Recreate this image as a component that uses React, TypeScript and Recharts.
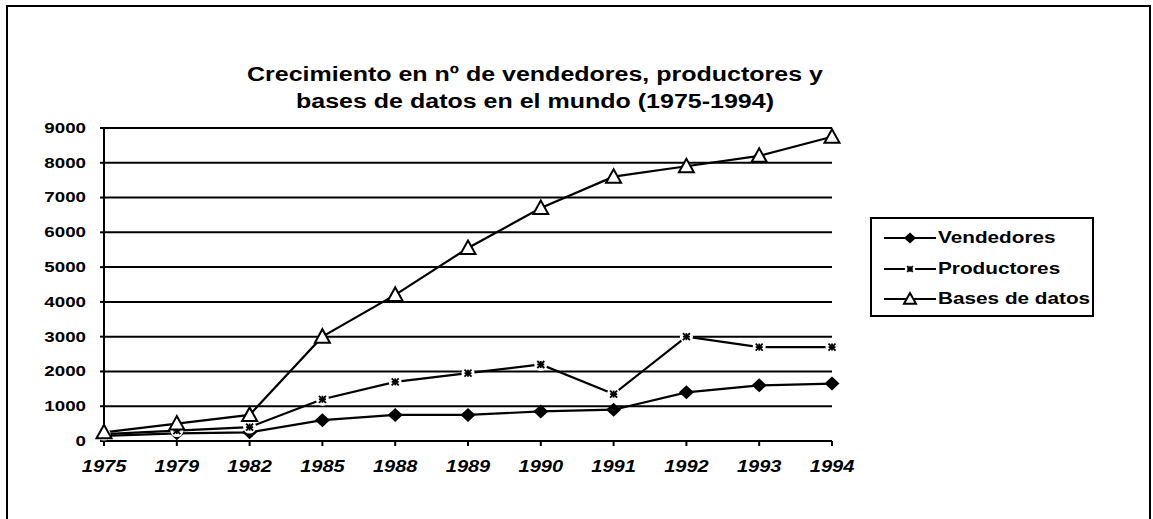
import React from "react";
import { LineChart, Line, XAxis, YAxis, CartesianGrid } from "recharts";

const years = ["1975", "1979", "1982", "1985", "1988", "1989", "1990", "1991", "1992", "1993", "1994"];
const vendedores = [150, 220, 250, 600, 750, 750, 850, 900, 1400, 1600, 1650];
const productores = [200, 300, 400, 1200, 1700, 1950, 2200, 1350, 3000, 2700, 2700];
const bases = [250, 500, 750, 3000, 4200, 5550, 6700, 7600, 7900, 8200, 8750];
const yTicks = [0, 1000, 2000, 3000, 4000, 5000, 6000, 7000, 8000, 9000];

const seriesNames = ["Vendedores", "Productores", "Bases de datos"];

const rows = years.map((y, i) => ({
  year: y,
  vendedores: vendedores[i],
  productores: productores[i],
  bases: bases[i],
}));

const FONT = "'Liberation Sans', Arial, sans-serif";
const STRETCH = 1.25;

function Diamond({ cx, cy, s = 1 }: any) {
  if (cx == null || cy == null) return null;
  const w = 7.5 * s;
  const h = 7 * s;
  return <polygon points={`${cx - w},${cy} ${cx},${cy - h} ${cx + w},${cy} ${cx},${cy + h}`} fill="#000" />;
}

function Star({ cx, cy, s = 1 }: any) {
  if (cx == null || cy == null) return null;
  const r = 3.5 * s;
  return (
    <g>
      <circle cx={cx} cy={cy} r={6.5 * s} fill="#fff" />
      <g stroke="#000" strokeWidth={1.8}>
        <line x1={cx - r} y1={cy} x2={cx + r} y2={cy} />
        <line x1={cx} y1={cy - r} x2={cx} y2={cy + r} />
        <line x1={cx - r} y1={cy - r} x2={cx + r} y2={cy + r} />
        <line x1={cx - r} y1={cy + r} x2={cx + r} y2={cy - r} />
      </g>
    </g>
  );
}

function Tri({ cx, cy, s = 1 }: any) {
  if (cx == null || cy == null) return null;
  const w = 7.5 * s;
  return (
    <polygon
      points={`${cx - w},${cy + 6 * s} ${cx},${cy - 7.5 * s} ${cx + w},${cy + 6 * s}`}
      fill="#fff"
      stroke="#000"
      strokeWidth={2}
    />
  );
}

function YTick({ x, y, payload }: any) {
  return (
    <text
      transform={`translate(${x},${y}) scale(${STRETCH},1)`}
      textAnchor="end"
      dominantBaseline="central"
      fontFamily={FONT}
      fontWeight="bold"
      fontSize={15}
      fill="#000"
    >
      {payload.value}
    </text>
  );
}

function XTick({ x, y, payload }: any) {
  return (
    <text
      transform={`translate(${x},${y}) scale(${STRETCH},1)`}
      textAnchor="middle"
      dy="0.71em"
      fontFamily={FONT}
      fontWeight="bold"
      fontStyle="italic"
      fontSize={16}
      fill="#000"
    >
      {payload.value}
    </text>
  );
}

const markers = [Diamond, Star, Tri];

export default function App() {
  return (
    <div
      style={{
        position: "absolute",
        left: 0,
        top: 0,
        width: 1153,
        height: 519,
        overflow: "hidden",
        background: "#fff",
      }}
    >
      <div
        style={{
          position: "absolute",
          left: 6,
          top: 5,
          width: 1141,
          height: 520,
          borderLeft: "2px solid #000",
          borderTop: "2px solid #000",
          borderRight: "2px solid #000",
        }}
      />
      <div
        style={{
          position: "absolute",
          left: 0,
          top: 61,
          width: 1070,
          textAlign: "center",
          fontFamily: FONT,
          fontWeight: "bold",
          fontSize: 20,
          lineHeight: "27px",
          transform: `scaleX(${STRETCH})`,
        }}
      >
        <div>Crecimiento en nº de vendedores, productores y</div>
        <div>bases de datos en el mundo (1975-1994)</div>
      </div>

      <div style={{ position: "absolute", left: 0, top: 0 }}>
        <LineChart width={1153} height={519} data={rows} margin={{ top: 128, right: 321, bottom: 38, left: 44 }}>
          <CartesianGrid vertical={false} stroke="#000" strokeWidth={2} />
          <XAxis
            dataKey="year"
            height={40}
            tick={<XTick />}
            tickSize={5}
            tickMargin={15}
            axisLine={{ stroke: "#000", strokeWidth: 2 }}
            tickLine={{ stroke: "#000", strokeWidth: 2 }}
            interval={0}
          />
          <YAxis
            width={60}
            domain={[0, 9000]}
            ticks={yTicks}
            tick={<YTick />}
            tickSize={4}
            tickMargin={14}
            axisLine={{ stroke: "#000", strokeWidth: 2 }}
            tickLine={{ stroke: "#000", strokeWidth: 2 }}
          />
          <Line dataKey="vendedores" name={seriesNames[0]} stroke="#000" strokeWidth={2.2} dot={<Diamond />} isAnimationActive={false} />
          <Line dataKey="productores" name={seriesNames[1]} stroke="#000" strokeWidth={2.2} dot={<Star />} isAnimationActive={false} />
          <Line dataKey="bases" name={seriesNames[2]} stroke="#000" strokeWidth={2.2} dot={<Tri />} isAnimationActive={false} />
        </LineChart>
      </div>

      <div
        style={{
          position: "absolute",
          left: 870,
          top: 217,
          width: 224,
          height: 100,
          border: "2px solid #000",
          boxSizing: "border-box",
          paddingTop: 4,
        }}
      >
        {seriesNames.map((name, i) => {
          const M = markers[i];
          return (
            <div key={name} style={{ display: "flex", alignItems: "center", height: 30.5 }}>
              <svg width={56} height={20} style={{ marginLeft: 10, flex: "none" }}>
                <line x1={2} y1={10} x2={54} y2={10} stroke="#000" strokeWidth={2} />
                <M cx={28} cy={10} s={0.8} />
              </svg>
              <span
                style={{
                  fontFamily: FONT,
                  fontWeight: "bold",
                  fontSize: 17,
                  display: "inline-block",
                  transform: `scaleX(1.22)`,
                  transformOrigin: "left center",
                  whiteSpace: "nowrap",
                }}
              >
                {name}
              </span>
            </div>
          );
        })}
      </div>
    </div>
  );
}
